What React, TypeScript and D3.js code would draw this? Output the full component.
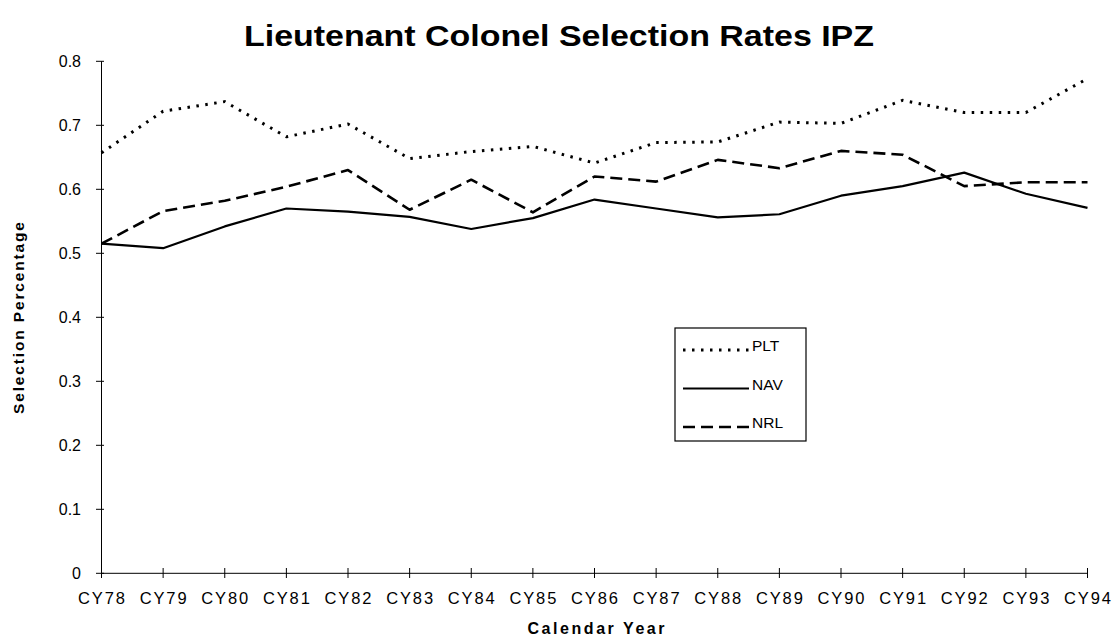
import React from "react";
import * as d3 from "d3";

const years = ["CY78","CY79","CY80","CY81","CY82","CY83","CY84","CY85","CY86","CY87","CY88","CY89","CY90","CY91","CY92","CY93","CY94"];
const plt = [0.657,0.722,0.737,0.682,0.702,0.648,0.659,0.667,0.641,0.673,0.674,0.705,0.703,0.739,0.720,0.720,0.773];
const nav = [0.515,0.508,0.542,0.570,0.565,0.557,0.538,0.555,0.584,0.570,0.556,0.561,0.590,0.605,0.626,0.593,0.571];
const nrl = [0.515,0.566,0.582,0.604,0.630,0.568,0.615,0.564,0.620,0.612,0.646,0.633,0.660,0.654,0.605,0.611,0.611];
const yTicks = [0,0.1,0.2,0.3,0.4,0.5,0.6,0.7,0.8];
const yTickLabels = ["0","0.1","0.2","0.3","0.4","0.5","0.6","0.7","0.8"];
const seriesNames = ["PLT","NAV","NRL"];

const W = 1115, H = 640;
const FONT = "'Liberation Sans', Arial, sans-serif";

export default function App() {
  const x = d3.scalePoint<string>().domain(years).range([101.5, 1087.5]);
  const y = d3.scaleLinear().domain([0, 0.8]).range([573.3, 61.3]);
  const line = d3.line<number>().x((_, i) => x(years[i]) as number).y(d => y(d));

  const styles = [
    { data: plt, dash: "2.5 6.5", width: 3, cap: "butt" },
    { data: nav, dash: "none", width: 2.2, cap: "butt" },
    { data: nrl, dash: "12 6", width: 2.6, cap: "butt" },
  ];

  const legX = 675, legY = 328, legW = 131, legH = 113;

  return (
    <svg width={W} height={H} style={{ position: "absolute", left: 0, top: 0, background: "#fff" }} fontFamily={FONT}>
      <rect x={0} y={0} width={W} height={H} fill="#fff" />
      <text x={559} y={46} textAnchor="middle" fontSize={29} fontWeight="bold" textLength={630} lengthAdjust="spacingAndGlyphs">
        Lieutenant Colonel Selection Rates IPZ
      </text>

      {/* y axis */}
      <line x1={101.5} x2={101.5} y1={y(0.8)} y2={y(0)} stroke="#000" strokeWidth={1} />
      {yTicks.map((t, i) => (
        <g key={t}>
          <line x1={96} x2={104} y1={y(t)} y2={y(t)} stroke="#000" strokeWidth={1} />
          <text x={81} y={y(t) + 5.5} textAnchor="end" fontSize={16}>{yTickLabels[i]}</text>
        </g>
      ))}
      {/* x axis */}
      <line x1={101.5} x2={1087.5} y1={y(0)} y2={y(0)} stroke="#000" strokeWidth={1} />
      {years.map(c => (
        <g key={c}>
          <line x1={x(c)} x2={x(c)} y1={568} y2={578} stroke="#000" strokeWidth={1} />
          <text x={x(c)} y={604} textAnchor="middle" fontSize={16.5} textLength={47} lengthAdjust="spacing">{c}</text>
        </g>
      ))}
      <text x={596} y={634} textAnchor="middle" fontSize={16} fontWeight="bold" textLength={137} lengthAdjust="spacing">Calendar Year</text>
      <text transform="translate(24,318) rotate(-90)" textAnchor="middle" fontSize={15.5} fontWeight="bold" textLength={192} lengthAdjust="spacing">Selection Percentage</text>

      {styles.map((s, i) => (
        <path key={i} d={line(s.data) as string} fill="none" stroke="#000" strokeWidth={s.width}
          strokeDasharray={s.dash} strokeLinecap={s.cap as any} strokeLinejoin="round" />
      ))}

      {/* legend */}
      <rect x={legX} y={legY} width={legW} height={legH} fill="#fff" stroke="#000" strokeWidth={1.2} />
      {seriesNames.map((n, i) => {
        const ly = legY + 22 + i * 38.5;
        const s = styles[i];
        return (
          <g key={n}>
            <line x1={legX + 8} x2={legX + 74} y1={ly} y2={ly} stroke="#000" strokeWidth={s.width}
              strokeDasharray={s.dash} />
            <text x={legX + 77} y={ly + 1} fontSize={15.5}>{n}</text>
          </g>
        );
      })}
    </svg>
  );
}
